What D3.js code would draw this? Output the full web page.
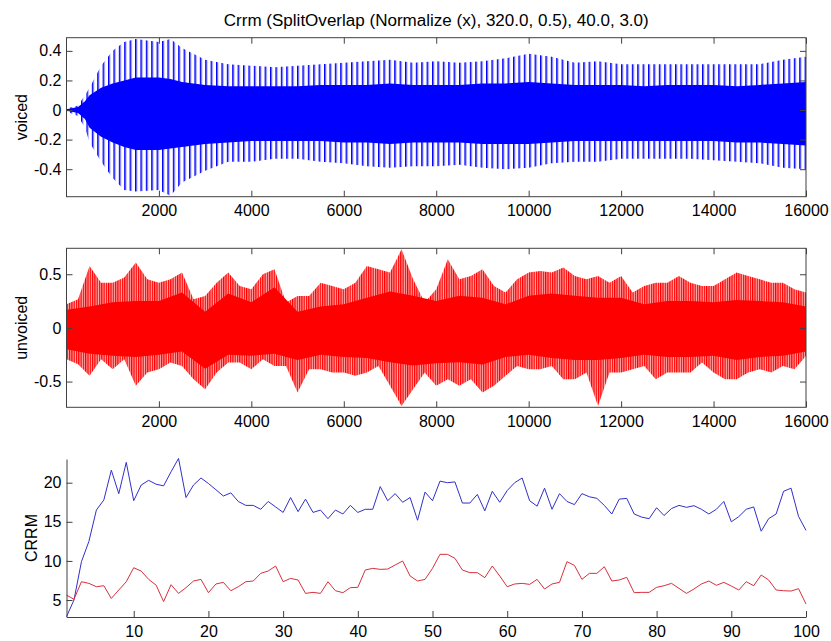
<!DOCTYPE html>
<html>
<head>
<meta charset="utf-8">
<script src="https://cdn.jsdelivr.net/npm/d3@7"></script>
<style>
body { margin: 0; background: #fff; }
svg { display: block; }
text { font-family: "Liberation Sans", Arial, sans-serif; }
</style>
</head>
<body>
<svg width="831" height="641"></svg>
<script>
const title = "Crrm (SplitOverlap (Normalize (x), 320.0, 0.5), 40.0, 3.0)";

// voiced waveform, envelope (sample index -> amplitude)
const voicedSamples = [0, 250, 400, 500, 750, 1000, 1250, 1500, 2000, 2250, 2500, 3000, 3500, 4000, 4500, 5000, 5500, 6000, 6500, 7000, 7500, 8000, 8500, 9000, 9500, 10000, 10500, 11000, 11500, 12000, 12500, 13000, 13500, 14000, 14500, 15000, 15500, 16000];
const voicedPeakHi = [0.01, 0.03, 0.10, 0.15, 0.30, 0.40, 0.46, 0.48, 0.46, 0.48, 0.42, 0.34, 0.31, 0.30, 0.29, 0.30, 0.31, 0.32, 0.33, 0.34, 0.32, 0.33, 0.32, 0.33, 0.35, 0.38, 0.36, 0.32, 0.33, 0.31, 0.31, 0.31, 0.31, 0.31, 0.31, 0.31, 0.34, 0.36];
const voicedPeakLo = [-0.01, -0.04, -0.12, -0.22, -0.35, -0.46, -0.54, -0.55, -0.54, -0.58, -0.49, -0.41, -0.35, -0.35, -0.33, -0.33, -0.35, -0.36, -0.38, -0.39, -0.38, -0.38, -0.37, -0.39, -0.40, -0.39, -0.36, -0.35, -0.35, -0.33, -0.33, -0.33, -0.33, -0.34, -0.35, -0.36, -0.39, -0.40];
const voicedCoreHi = [0.005, 0.02, 0.06, 0.10, 0.15, 0.18, 0.20, 0.22, 0.22, 0.21, 0.19, 0.17, 0.16, 0.16, 0.16, 0.16, 0.17, 0.17, 0.17, 0.18, 0.17, 0.17, 0.17, 0.18, 0.18, 0.19, 0.18, 0.17, 0.17, 0.17, 0.16, 0.17, 0.17, 0.17, 0.16, 0.17, 0.18, 0.19];
const voicedCoreLo = [-0.005, -0.02, -0.06, -0.12, -0.18, -0.22, -0.25, -0.27, -0.27, -0.26, -0.25, -0.23, -0.22, -0.21, -0.21, -0.21, -0.21, -0.22, -0.22, -0.23, -0.22, -0.22, -0.22, -0.23, -0.23, -0.23, -0.22, -0.21, -0.21, -0.21, -0.21, -0.21, -0.21, -0.21, -0.22, -0.22, -0.23, -0.24];

// unvoiced waveform, peaks every 250 samples
const unvoicedPeakHi = [0.22, 0.267, 0.578, 0.422, 0.422, 0.469, 0.609, 0.453, 0.422, 0.453, 0.516, 0.267, 0.298, 0.422, 0.516, 0.391, 0.36, 0.50, 0.547, 0.236, 0.298, 0.298, 0.422, 0.391, 0.36, 0.422, 0.578, 0.547, 0.516, 0.733, 0.453, 0.236,
  0.36, 0.64, 0.453, 0.484, 0.547, 0.391, 0.329, 0.453, 0.516, 0.531, 0.516, 0.562, 0.484, 0.453, 0.484, 0.422, 0.484, 0.329, 0.391, 0.422, 0.422, 0.484, 0.422, 0.391, 0.391, 0.453, 0.516, 0.484, 0.453, 0.422, 0.422, 0.36, 0.329];
const unvoicedPeakLo = [-0.292, -0.339, -0.447, -0.292, -0.385, -0.292, -0.54, -0.416, -0.385, -0.323, -0.354, -0.478, -0.571, -0.416, -0.323, -0.323, -0.385, -0.292, -0.354, -0.354, -0.602, -0.385, -0.385, -0.416, -0.416, -0.447, -0.416, -0.354, -0.54, -0.727, -0.571, -0.416,
  -0.54, -0.478, -0.54, -0.478, -0.602, -0.54, -0.447, -0.354, -0.385, -0.385, -0.354, -0.478, -0.478, -0.416, -0.727, -0.416, -0.416, -0.385, -0.354, -0.478, -0.416, -0.416, -0.416, -0.323, -0.416, -0.478, -0.478, -0.416, -0.385, -0.416, -0.354, -0.385, -0.261];
// dense body, every 500 samples
const unvoicedCoreHi = [0.17, 0.20, 0.24, 0.25, 0.25, 0.33, 0.15, 0.32, 0.24, 0.38, 0.15, 0.20, 0.22, 0.28, 0.34, 0.30, 0.25, 0.30, 0.28, 0.22, 0.30, 0.32, 0.30, 0.28, 0.28, 0.22, 0.25, 0.25, 0.24, 0.26, 0.25, 0.24, 0.20];
const unvoicedCoreLo = [-0.20, -0.24, -0.26, -0.27, -0.25, -0.22, -0.38, -0.25, -0.26, -0.24, -0.30, -0.25, -0.27, -0.28, -0.32, -0.35, -0.33, -0.32, -0.34, -0.27, -0.25, -0.28, -0.30, -0.30, -0.28, -0.25, -0.27, -0.27, -0.26, -0.30, -0.27, -0.26, -0.22];

// CRRM per frame
const frames = d3.range(1, 101);
const crrmVoiced = [2.87, 5.0, 9.9, 12.5, 16.5, 17.8, 21.6, 18.6, 22.6, 17.7, 19.7, 20.3, 19.8, 19.6, 21.4, 23.1, 18.1, 19.7, 20.6, 19.9,
  19.1, 18.3, 18.7, 17.6, 17.1, 17.1, 16.6, 17.6, 16.9, 16.2, 18.1, 16.3, 17.9, 16.2, 16.5, 15.4, 16.5, 16.0, 17.1, 16.2,
  16.6, 16.6, 19.5, 17.7, 18.6, 17.5, 18.1, 15.2, 18.8, 17.7, 20.2, 20.0, 20.1, 17.4, 17.4, 18.5, 16.4, 18.9, 17.5, 19.0,
  20.0, 20.6, 17.7, 17.0, 19.3, 16.6, 18.6, 17.6, 17.2, 18.6, 18.2, 18.0, 17.1, 16.0, 17.9, 18.0, 16.0, 15.6, 15.4, 16.8,
  15.8, 16.7, 17.1, 16.85, 17.06, 16.6, 16.0, 16.6, 17.6, 15.0, 15.66, 16.6, 16.9, 13.8, 15.4, 16.0, 18.9, 19.3, 15.7, 13.9];
const crrmUnvoiced = [5.64, 5.09, 7.34, 7.13, 6.7, 6.83, 5.2, 6.28, 7.34, 9.13, 8.7, 7.64, 6.9, 4.8, 6.96, 5.85, 6.58, 7.43, 7.64, 5.94,
  7.05, 7.26, 6.19, 6.7, 7.34, 7.43, 8.41, 8.71, 9.35, 7.34, 7.77, 7.56, 5.85, 5.98, 5.85, 7.34, 6.19, 5.94, 6.58, 6.62,
  8.84, 9.05, 8.92, 8.96, 9.48, 9.99, 8.07, 7.43, 7.64, 9.05, 10.84, 10.84, 10.33, 8.84, 8.5, 8.5, 7.86, 9.35, 8.07, 6.7,
  7.05, 7.13, 7.0, 7.64, 6.41, 7.05, 7.26, 9.9, 9.43, 7.64, 8.41, 8.41, 9.26, 7.43, 7.56, 7.9, 5.94, 5.98, 5.98, 6.62,
  6.83, 7.13, 6.49, 5.85, 6.41, 7.05, 7.43, 6.88, 7.26, 6.79, 6.28, 7.34, 6.83, 8.2, 7.56, 6.28, 6.19, 6.15, 6.45, 4.49];

const sampleTicks = [2000, 4000, 6000, 8000, 10000, 12000, 14000, 16000];
const voicedTicks = [-0.4, -0.2, 0, 0.2, 0.4];
const unvoicedTicks = [-0.5, 0, 0.5];
const frameTicks = [10, 20, 30, 40, 50, 60, 70, 80, 90, 100];
const crrmTicks = [5, 10, 15, 20];

const svg = d3.select("svg");
const left = 66.5, right = 806;
const axisColor = "#404040";
const fontSize = 16;
const plain = d => String(d);

const defs = svg.append("defs");
function stripes(id, color, w, bar) {
    const p = defs.append("pattern")
        .attr("id", id)
        .attr("patternUnits", "userSpaceOnUse")
        .attr("width", w)
        .attr("height", 10);
    p.append("rect").attr("width", bar).attr("height", 10).attr("fill", color);
    p.append("rect").attr("x", bar).attr("width", 0.8).attr("height", 10)
        .attr("fill", color).attr("opacity", 0.45);
}
stripes("blueStripes", "#0000ff", 5.4, 1.4);
stripes("redStripes", "#ff0000", 2.3, 1.3);

svg.append("text")
    .attr("x", (left + right) / 2)
    .attr("y", 26)
    .attr("text-anchor", "middle")
    .attr("font-size", 16)
    .attr("textLength", 425)
    .attr("lengthAdjust", "spacingAndGlyphs")
    .text(title);

function styleAxis(g) {
    g.select(".domain").remove();
    g.selectAll("line").attr("stroke", axisColor);
    g.selectAll("text").attr("font-size", fontSize).attr("fill", "#000")
        .attr("font-family", "Liberation Sans, Arial, sans-serif");
}

function waveformPanel(opts) {
    const x = d3.scaleLinear().domain([1, 16000]).range([left, right]);
    const y = d3.scaleLinear().domain(opts.yDomain).range([opts.bottom, opts.top]);
    const g = svg.append("g");

    const clipId = "clip" + opts.id;
    defs.append("clipPath").attr("id", clipId)
        .append("rect").attr("x", left).attr("y", opts.top)
        .attr("width", right - left).attr("height", opts.bottom - opts.top);

    const area = d3.area()
        .x(d => x(d.s))
        .y0(d => y(d.lo))
        .y1(d => y(d.hi));

    const plot = g.append("g").attr("clip-path", `url(#${clipId})`);
    plot.append("path")
        .datum(opts.outer)
        .attr("fill", `url(#${opts.pattern})`)
        .attr("d", area);
    plot.append("path")
        .datum(opts.core)
        .attr("fill", opts.color)
        .attr("d", area);

    g.append("g").attr("transform", `translate(0,${opts.bottom})`)
        .call(d3.axisBottom(x).tickValues(sampleTicks).tickSize(-6).tickPadding(8).tickFormat(plain))
        .call(styleAxis);
    g.append("g").attr("transform", `translate(0,${opts.top})`)
        .call(d3.axisTop(x).tickValues(sampleTicks).tickSize(-6).tickFormat(""))
        .call(styleAxis);
    g.append("g").attr("transform", `translate(${left},0)`)
        .call(d3.axisLeft(y).tickValues(opts.ticks).tickSize(-6).tickPadding(5).tickFormat(plain))
        .call(styleAxis);
    g.append("g").attr("transform", `translate(${right},0)`)
        .call(d3.axisRight(y).tickValues(opts.ticks).tickSize(-6).tickFormat(""))
        .call(styleAxis);

    g.append("rect")
        .attr("x", left).attr("y", opts.top)
        .attr("width", right - left).attr("height", opts.bottom - opts.top)
        .attr("fill", "none").attr("stroke", axisColor);

    svg.append("text")
        .attr("transform", `translate(27,${(opts.top + opts.bottom) / 2}) rotate(-90)`)
        .attr("text-anchor", "middle")
        .attr("font-size", fontSize)
        .text(opts.label);
}

const voicedOuter = voicedSamples.map((s, i) => ({ s, hi: voicedPeakHi[i], lo: voicedPeakLo[i] }));
const voicedCore = voicedSamples.map((s, i) => ({ s, hi: voicedCoreHi[i], lo: voicedCoreLo[i] }));
const unvoicedOuter = unvoicedPeakHi.map((v, i) => ({ s: i * 250, hi: v, lo: unvoicedPeakLo[i] }));
const unvoicedCore = unvoicedCoreHi.map((v, i) => ({ s: i * 500, hi: v, lo: unvoicedCoreLo[i] }));

waveformPanel({
    id: "v", top: 37.7, bottom: 196.7, yDomain: [-0.586, 0.489],
    outer: voicedOuter, core: voicedCore, color: "#0000ff", pattern: "blueStripes",
    ticks: voicedTicks, label: "voiced"
});
waveformPanel({
    id: "u", top: 248.3, bottom: 407.3, yDomain: [-0.74, 0.742],
    outer: unvoicedOuter, core: unvoicedCore, color: "#ff0000", pattern: "redStripes",
    ticks: unvoicedTicks, label: "unvoiced"
});

// CRRM panel
const bTop = 459, bBottom = 617;
const xb = d3.scaleLinear().domain([1, 100]).range([left, right]);
const yb = d3.scaleLinear().domain([2.83, 23.03]).range([bBottom, bTop]);
const line = d3.line().x((d, i) => xb(frames[i])).y(d => yb(d));

svg.append("path").datum(crrmVoiced)
    .attr("fill", "none").attr("stroke", "#3030c8").attr("stroke-width", 1)
    .attr("d", line);
svg.append("path").datum(crrmUnvoiced)
    .attr("fill", "none").attr("stroke", "#d8303c").attr("stroke-width", 1)
    .attr("d", line);

function styleOpenAxis(g) {
    g.select(".domain").attr("stroke", axisColor);
    g.selectAll("line").attr("stroke", axisColor);
    g.selectAll("text").attr("font-size", fontSize).attr("fill", "#000")
        .attr("font-family", "Liberation Sans, Arial, sans-serif");
}
svg.append("g").attr("transform", `translate(0,${bBottom})`)
    .call(d3.axisBottom(xb).tickValues(frameTicks).tickSize(-6).tickSizeOuter(0).tickPadding(9).tickFormat(plain))
    .call(styleOpenAxis);
svg.append("g").attr("transform", `translate(${left},0)`)
    .call(d3.axisLeft(yb).tickValues(crrmTicks).tickSize(-6).tickSizeOuter(0).tickPadding(5).tickFormat(plain))
    .call(styleOpenAxis);

svg.append("text")
    .attr("transform", `translate(37,${(bTop + bBottom) / 2}) rotate(-90)`)
    .attr("text-anchor", "middle")
    .attr("font-size", fontSize)
    .text("CRRM");
</script>
</body>
</html>
